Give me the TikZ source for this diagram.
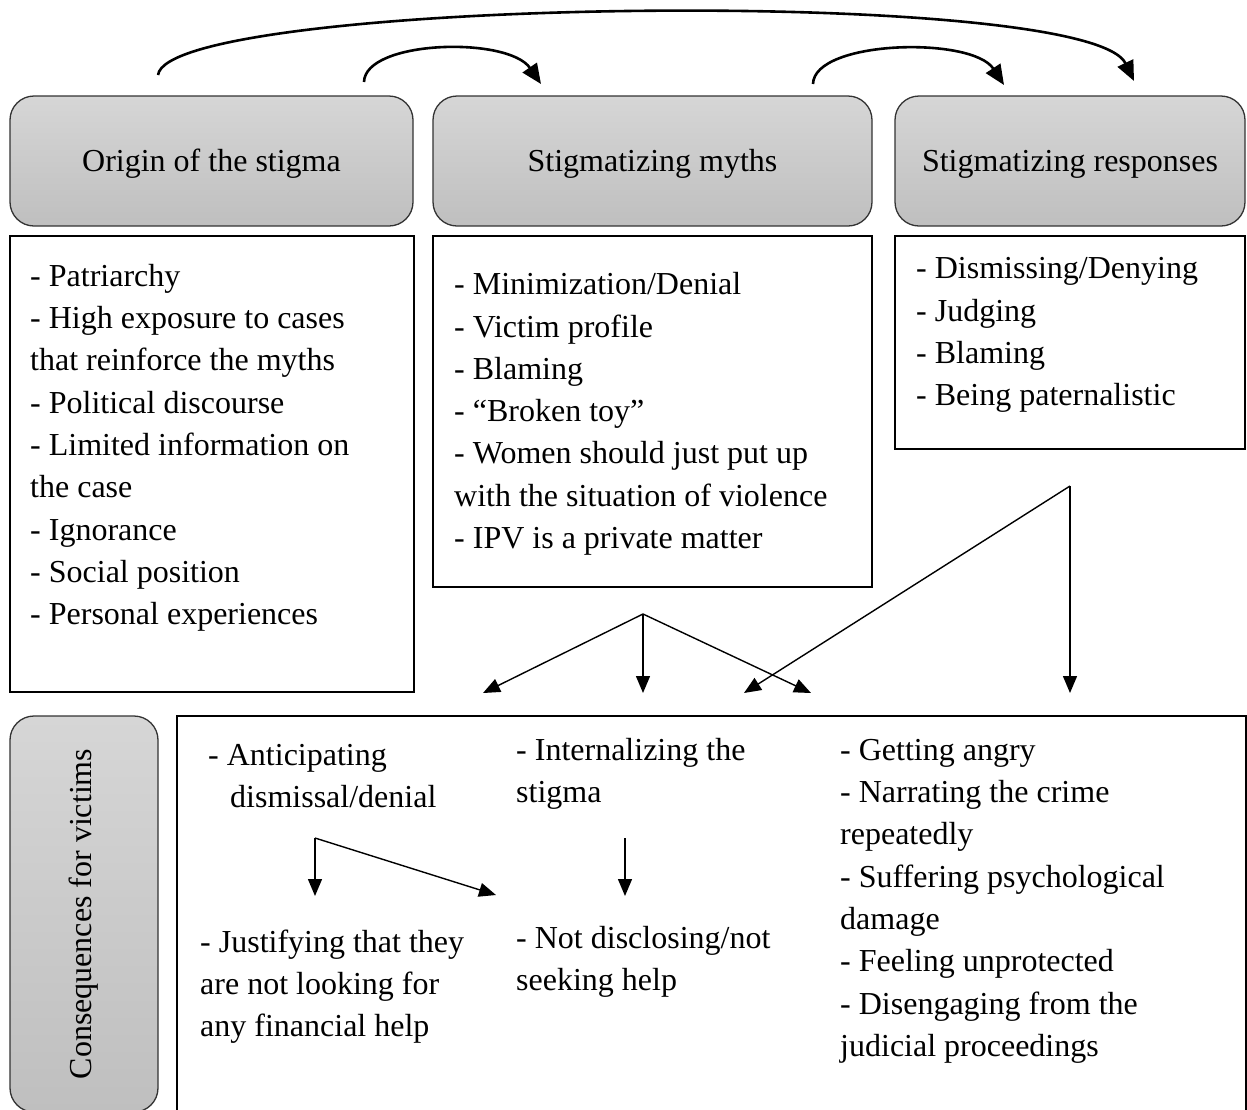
\documentclass[tikz,border=0pt]{standalone}
\usepackage{fontspec}
\setmainfont{Liberation Serif}
\usetikzlibrary{arrows.meta}
\definecolor{gtop}{HTML}{D6D6D6}
\definecolor{gbot}{HTML}{BFBFBF}
\tikzset{
  gbox/.style={draw=black!80, line width=1.3pt, rounded corners=24pt,
    top color=gtop, bottom color=gbot, inner sep=0pt,
    font=\fontsize{32}{42.3}\selectfont},
  wbox/.style={draw=black, line width=2.5pt, inner sep=0pt},
  txt/.style={anchor=north west, inner sep=0pt, align=left,
    font=\fontsize{32}{42.3}\selectfont},
  arc/.style={line width=2.6pt, -{Triangle[length=20pt,width=17pt]}},
  thin/.style={line width=1.4pt, -{Triangle[length=17pt,width=14pt]}}
}
\begin{document}
\begin{tikzpicture}[x=1pt,y=-1pt]
\useasboundingbox (0,0) rectangle (1247,1109);

% header boxes
\node[gbox, text height=28pt, text depth=7pt, minimum width=403pt, minimum height=130pt] (g1) at (211.5,161) {Origin of the stigma};
\node[gbox, text height=28pt, text depth=7pt, minimum width=439pt, minimum height=130pt] (g2) at (652.5,161) {Stigmatizing myths};
\node[gbox, text height=28pt, text depth=7pt, minimum width=350pt, minimum height=130pt] (g3) at (1070,161) {Stigmatizing responses};

% content boxes
\node[wbox, minimum width=404pt, minimum height=456pt] (w1) at (212,464) {};
\node[wbox, minimum width=439pt, minimum height=351pt] (w2) at (652.5,411.5) {};
\node[wbox, minimum width=350pt, minimum height=213pt] (w3) at (1070,342.5) {};

\node[txt] (t1) at (30,256.4) {\strut- Patriarchy\\- High exposure to cases\\that reinforce the myths\\- Political discourse\\- Limited information on\\the case\\- Ignorance\\- Social position\\- Personal experiences};
\node[txt] (t2) at (454,264.9) {\strut- Minimization/Denial\\- Victim profile\\- Blaming\\- “Broken toy”\\- Women should just put up\\with the situation of violence\\- IPV is a private matter};
\node[txt] (t3) at (916,248.9) {\strut- Dismissing/Denying\\- Judging\\- Blaming\\- Being paternalistic};

% consequences
\node[gbox, rotate=90, minimum width=396pt, minimum height=148pt] (gv) at (84,914) {Consequences for victims};
\node[wbox, minimum width=1069pt, minimum height=400pt] (big) at (711.5,916) {};

\node[txt] (c1) at (208,735.4) {\strut- Anticipating\\\hspace*{22pt}dismissal/denial};
\node[txt] (c2) at (516,730.4) {\strut- Internalizing the\\stigma};
\node[txt] (c3) at (840,730.4) {\strut- Getting angry\\- Narrating the crime\\repeatedly\\- Suffering psychological\\damage\\- Feeling unprotected\\- Disengaging from the\\judicial proceedings};
\node[txt] (c4) at (200,922.4) {\strut- Justifying that they\\are not looking for\\any financial help};
\node[txt] (c5) at (516,918.4) {\strut- Not disclosing/not\\seeking help};

% top arcs
\coordinate (a1s) at (158,75);
\coordinate (a1e) at (1134,81);
\coordinate (a2s) at (364,82);
\coordinate (a2e) at (541,84);
\coordinate (a3s) at (813,84);
\coordinate (a3e) at (1004,85);
\draw[arc] (a1s) .. controls (168,-2) and (1088,-15) .. (a1e);
\draw[arc] (a2s) .. controls (365,40) and (508,36) .. (a2e);
\draw[arc] (a3s) .. controls (814,40) and (972,36) .. (a3e);

% middle arrows
\coordinate (m0) at (643,614);
\coordinate (m1) at (483,693);
\coordinate (m2) at (643,693);
\coordinate (m3) at (811,693);
\coordinate (r0) at (1070,486);
\coordinate (r1) at (744,693);
\coordinate (r2) at (1070,693);
\draw[thin] (m0) -- (m1);
\draw[thin] (m0) -- (m2);
\draw[thin] (m0) -- (m3);
\draw[thin] (r0) -- (r1);
\draw[thin] (r0) -- (r2);

% lower arrows
\coordinate (l0) at (315,838);
\coordinate (l1) at (315,896);
\coordinate (l2) at (496,895);
\coordinate (n0) at (625,838);
\coordinate (n1) at (625,896);
\draw[thin] (l0) -- (l1);
\draw[thin] (l0) -- (l2);
\draw[thin] (n0) -- (n1);
\end{tikzpicture}
\end{document}
